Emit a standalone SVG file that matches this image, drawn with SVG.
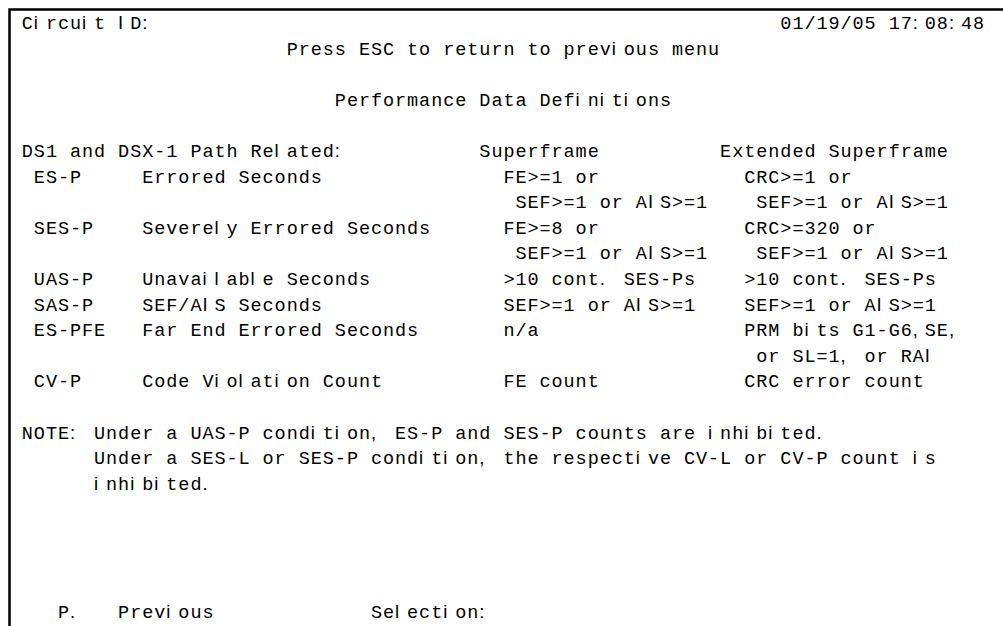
<svg xmlns="http://www.w3.org/2000/svg" width="1003" height="626" viewBox="0 0 1003 626">
<style>
.t{font-family:"Liberation Mono","DejaVu Sans Mono",monospace;font-size:18.5px;fill:#000;white-space:pre}
.n{font-family:"Liberation Sans",Arial,sans-serif}
.b{fill:none;stroke:#000;stroke-width:2.5}
</style>
<rect width="1003" height="626" fill="#fff"/>
<path class="b" d="M9.5 626V9.5H1003"/>
<g id="header">
<text class="t" y="29" x="21.8 33.8 45.9 57.9 70 82 94 106.1 118.1 130.2 142.2">C<tspan class="n">i</tspan>rcu<tspan class="n">i</tspan>t <tspan class="n">I</tspan>D<tspan class="n">:</tspan></text>
<text class="t" y="29" x="780.3 792.4 804.4 816.4 828.5 840.5 852.6 864.6 876.6 888.7 900.7 912.8 924.8 936.8 948.9 960.9 973">01/19/05 17<tspan class="n">:</tspan>08<tspan class="n">:</tspan>48</text>
<text class="t" y="54.6" x="286.7 298.7 310.8 322.8 334.8 346.9 358.9 371 383 395 407.1 419.1 431.2 443.2 455.2 467.3 479.3 491.4 503.4 515.4 527.5 539.5 551.6 563.6 575.6 587.7 599.7 611.8 623.8 635.8 647.9 659.9 672 684 696 708.1">Press ESC to return to prev<tspan class="n">i</tspan>ous menu</text>
<text class="t" y="105.8" x="334.8 346.9 358.9 371 383 395 407.1 419.1 431.2 443.2 455.2 467.3 479.3 491.4 503.4 515.4 527.5 539.5 551.6 563.6 575.6 587.7 599.7 611.8 623.8 635.8 647.9 659.9">Performance Data Def<tspan class="n">i</tspan>n<tspan class="n">i</tspan>t<tspan class="n">i</tspan>ons</text>
</g>
<g id="table">
<text class="t" y="157" x="21.8 33.8 45.9 57.9 70 82 94 106.1 118.1 130.2 142.2 154.2 166.3 178.3 190.4 202.4 214.4 226.5 238.5 250.6 262.6 274.6 286.7 298.7 310.8 322.8 334.8">DS1 and DSX-1 Path Re<tspan class="n">l</tspan>ated<tspan class="n">:</tspan></text>
<text class="t" y="157" x="479.3 491.4 503.4 515.4 527.5 539.5 551.6 563.6 575.6 587.7">Superframe</text>
<text class="t" y="157" x="720.1 732.2 744.2 756.2 768.3 780.3 792.4 804.4 816.4 828.5 840.5 852.6 864.6 876.6 888.7 900.7 912.8 924.8 936.8">Extended Superframe</text>

<text class="t" y="182.6" x="33.8 45.9 57.9 70">ES-P</text>
<text class="t" y="182.6" x="142.2 154.2 166.3 178.3 190.4 202.4 214.4 226.5 238.5 250.6 262.6 274.6 286.7 298.7 310.8">Errored Seconds</text>
<text class="t" y="182.6" x="503.4 515.4 527.5 539.5 551.6 563.6 575.6 587.7">FE&gt;=1 or</text>
<text class="t" y="182.6" x="744.2 756.2 768.3 780.3 792.4 804.4 816.4 828.5 840.5">CRC&gt;=1 or</text>
<text class="t" y="208.2" x="515.4 527.5 539.5 551.6 563.6 575.6 587.7 599.7 611.8 623.8 635.8 647.9 659.9 672 684 696">SEF&gt;=1 or A<tspan class="n">I</tspan>S&gt;=1</text>
<text class="t" y="208.2" x="756.2 768.3 780.3 792.4 804.4 816.4 828.5 840.5 852.6 864.6 876.6 888.7 900.7 912.8 924.8 936.8">SEF&gt;=1 or A<tspan class="n">I</tspan>S&gt;=1</text>

<text class="t" y="233.8" x="33.8 45.9 57.9 70 82">SES-P</text>
<text class="t" y="233.8" x="142.2 154.2 166.3 178.3 190.4 202.4 214.4 226.5 238.5 250.6 262.6 274.6 286.7 298.7 310.8 322.8 334.8 346.9 358.9 371 383 395 407.1 419.1">Severe<tspan class="n">l</tspan>y Errored Seconds</text>
<text class="t" y="233.8" x="503.4 515.4 527.5 539.5 551.6 563.6 575.6 587.7">FE&gt;=8 or</text>
<text class="t" y="233.8" x="744.2 756.2 768.3 780.3 792.4 804.4 816.4 828.5 840.5 852.6 864.6">CRC&gt;=320 or</text>
<text class="t" y="259.4" x="515.4 527.5 539.5 551.6 563.6 575.6 587.7 599.7 611.8 623.8 635.8 647.9 659.9 672 684 696">SEF&gt;=1 or A<tspan class="n">I</tspan>S&gt;=1</text>
<text class="t" y="259.4" x="756.2 768.3 780.3 792.4 804.4 816.4 828.5 840.5 852.6 864.6 876.6 888.7 900.7 912.8 924.8 936.8">SEF&gt;=1 or A<tspan class="n">I</tspan>S&gt;=1</text>

<text class="t" y="285" x="33.8 45.9 57.9 70 82">UAS-P</text>
<text class="t" y="285" x="142.2 154.2 166.3 178.3 190.4 202.4 214.4 226.5 238.5 250.6 262.6 274.6 286.7 298.7 310.8 322.8 334.8 346.9 358.9">Unava<tspan class="n">il</tspan>ab<tspan class="n">l</tspan>e Seconds</text>
<text class="t" y="285" x="503.4 515.4 527.5 539.5 551.6 563.6 575.6 587.7 599.7 611.8 623.8 635.8 647.9 659.9 672 684">&gt;10 cont<tspan class="n">.</tspan> SES-Ps</text>
<text class="t" y="285" x="744.2 756.2 768.3 780.3 792.4 804.4 816.4 828.5 840.5 852.6 864.6 876.6 888.7 900.7 912.8 924.8">&gt;10 cont<tspan class="n">.</tspan> SES-Ps</text>

<text class="t" y="310.6" x="33.8 45.9 57.9 70 82">SAS-P</text>
<text class="t" y="310.6" x="142.2 154.2 166.3 178.3 190.4 202.4 214.4 226.5 238.5 250.6 262.6 274.6 286.7 298.7 310.8">SEF/A<tspan class="n">I</tspan>S Seconds</text>
<text class="t" y="310.6" x="503.4 515.4 527.5 539.5 551.6 563.6 575.6 587.7 599.7 611.8 623.8 635.8 647.9 659.9 672 684">SEF&gt;=1 or A<tspan class="n">I</tspan>S&gt;=1</text>
<text class="t" y="310.6" x="744.2 756.2 768.3 780.3 792.4 804.4 816.4 828.5 840.5 852.6 864.6 876.6 888.7 900.7 912.8 924.8">SEF&gt;=1 or A<tspan class="n">I</tspan>S&gt;=1</text>

<text class="t" y="336.2" x="33.8 45.9 57.9 70 82 94">ES-PFE</text>
<text class="t" y="336.2" x="142.2 154.2 166.3 178.3 190.4 202.4 214.4 226.5 238.5 250.6 262.6 274.6 286.7 298.7 310.8 322.8 334.8 346.9 358.9 371 383 395 407.1">Far End Errored Seconds</text>
<text class="t" y="336.2" x="503.4 515.4 527.5">n/a</text>
<text class="t" y="336.2" x="744.2 756.2 768.3 780.3 792.4 804.4 816.4 828.5 840.5 852.6 864.6 876.6 888.7 900.7 912.8 924.8 936.8 948.9">PRM b<tspan class="n">i</tspan>ts G1-G6<tspan class="n">,</tspan>SE<tspan class="n">,</tspan></text>
<text class="t" y="361.8" x="756.2 768.3 780.3 792.4 804.4 816.4 828.5 840.5 852.6 864.6 876.6 888.7 900.7 912.8 924.8">or SL=1<tspan class="n">,</tspan> or RA<tspan class="n">I</tspan></text>

<text class="t" y="387.4" x="33.8 45.9 57.9 70">CV-P</text>
<text class="t" y="387.4" x="142.2 154.2 166.3 178.3 190.4 202.4 214.4 226.5 238.5 250.6 262.6 274.6 286.7 298.7 310.8 322.8 334.8 346.9 358.9 371">Code V<tspan class="n">i</tspan>o<tspan class="n">l</tspan>at<tspan class="n">i</tspan>on Count</text>
<text class="t" y="387.4" x="503.4 515.4 527.5 539.5 551.6 563.6 575.6 587.7">FE count</text>
<text class="t" y="387.4" x="744.2 756.2 768.3 780.3 792.4 804.4 816.4 828.5 840.5 852.6 864.6 876.6 888.7 900.7 912.8">CRC error count</text>
</g>
<g id="note">
<text class="t" y="438.6" x="21.8 33.8 45.9 57.9 70 82 94 106.1 118.1 130.2 142.2 154.2 166.3 178.3 190.4 202.4 214.4 226.5 238.5 250.6 262.6 274.6 286.7 298.7 310.8 322.8 334.8 346.9 358.9 371 383 395 407.1 419.1 431.2 443.2 455.2 467.3 479.3 491.4 503.4 515.4 527.5 539.5 551.6 563.6 575.6 587.7 599.7 611.8 623.8 635.8 647.9 659.9 672 684 696 708.1 720.1 732.2 744.2 756.2 768.3 780.3 792.4 804.4 816.4">NOTE<tspan class="n">:</tspan> Under a UAS-P cond<tspan class="n">i</tspan>t<tspan class="n">i</tspan>on<tspan class="n">,</tspan> ES-P and SES-P counts are <tspan class="n">i</tspan>nh<tspan class="n">i</tspan>b<tspan class="n">i</tspan>ted<tspan class="n">.</tspan></text>
<text class="t" y="464.2" x="94 106.1 118.1 130.2 142.2 154.2 166.3 178.3 190.4 202.4 214.4 226.5 238.5 250.6 262.6 274.6 286.7 298.7 310.8 322.8 334.8 346.9 358.9 371 383 395 407.1 419.1 431.2 443.2 455.2 467.3 479.3 491.4 503.4 515.4 527.5 539.5 551.6 563.6 575.6 587.7 599.7 611.8 623.8 635.8 647.9 659.9 672 684 696 708.1 720.1 732.2 744.2 756.2 768.3 780.3 792.4 804.4 816.4 828.5 840.5 852.6 864.6 876.6 888.7 900.7 912.8 924.8">Under a SES-L or SES-P cond<tspan class="n">i</tspan>t<tspan class="n">i</tspan>on<tspan class="n">,</tspan> the respect<tspan class="n">i</tspan>ve CV-L or CV-P count <tspan class="n">i</tspan>s</text>
<text class="t" y="489.8" x="94 106.1 118.1 130.2 142.2 154.2 166.3 178.3 190.4 202.4"><tspan class="n">i</tspan>nh<tspan class="n">i</tspan>b<tspan class="n">i</tspan>ted<tspan class="n">.</tspan></text>
</g>
<g id="footer">
<text class="t" y="617.8" x="57.9 70">P<tspan class="n">.</tspan></text>
<text class="t" y="617.8" x="118.1 130.2 142.2 154.2 166.3 178.3 190.4 202.4">Prev<tspan class="n">i</tspan>ous</text>
<text class="t" y="617.8" x="371 383 395 407.1 419.1 431.2 443.2 455.2 467.3 479.3">Se<tspan class="n">l</tspan>ect<tspan class="n">i</tspan>on<tspan class="n">:</tspan></text>
</g>
</svg>
